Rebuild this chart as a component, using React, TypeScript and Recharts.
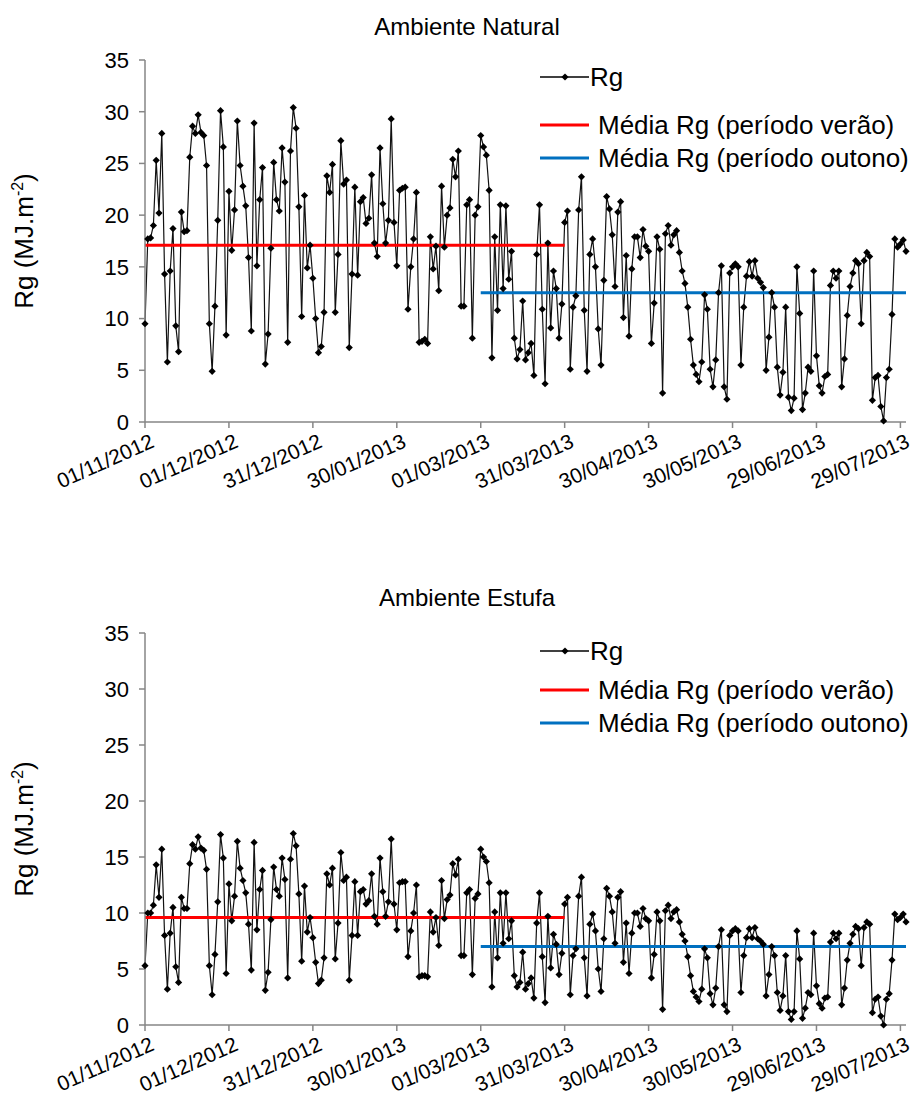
import React from "react";
import { Line, LineChart, XAxis, YAxis } from "recharts";

// eixo x: dias desde 01/11/2012 (último ponto em 31/07/2013)
const TICK_DAYS = [0, 30, 60, 90, 120, 150, 180, 210, 240, 270];
const TICK_LABELS = [
  "01/11/2012",
  "01/12/2012",
  "31/12/2012",
  "30/01/2013",
  "01/03/2013",
  "31/03/2013",
  "30/04/2013",
  "30/05/2013",
  "29/06/2013",
  "29/07/2013",
];
const Y_TICKS = [0, 5, 10, 15, 20, 25, 30, 35];

// Rg diário (MJ.m-2), ambiente natural
const RG_NATURAL = [
  9.5, 17.7, 17.8, 19.0, 25.3, 20.2, 27.9, 14.3, 5.8, 14.6,
  18.7, 9.3, 6.8, 20.3, 18.4, 18.5, 25.6, 28.6, 27.9, 29.7,
  28.0, 27.7, 24.8, 9.5, 4.9, 11.2, 19.5, 30.1, 26.6, 8.4,
  22.3, 16.6, 20.5, 29.1, 24.8, 22.8, 20.9, 15.9, 8.8, 28.9,
  15.1, 21.5, 24.6, 5.6, 8.5, 16.8, 25.1, 21.5, 20.4, 26.5,
  23.2, 7.7, 26.2, 30.4, 28.4, 20.8, 10.2, 21.9, 14.9, 17.1,
  13.9, 10.0, 6.7, 7.3, 10.6, 23.8, 22.2, 24.9, 10.6, 16.2,
  27.2, 23.0, 23.4, 7.2, 14.3, 22.7, 14.2, 21.3, 21.7, 19.2,
  19.7, 23.9, 17.3, 16.0, 26.5, 21.1, 17.3, 19.5, 29.3, 19.3,
  15.1, 22.4, 22.6, 22.7, 10.9, 15.0, 17.7, 22.2, 7.7, 7.8,
  8.0, 7.6, 17.9, 14.8, 17.0, 12.7, 22.8, 16.9, 20.0, 20.7,
  25.4, 23.7, 26.2, 11.2, 11.2, 21.0, 21.5, 8.1, 20.0, 20.8,
  27.7, 26.6, 25.8, 22.4, 6.2, 17.9, 10.8, 21.0, 12.9, 20.9,
  13.8, 16.5, 8.1, 6.1, 7.0, 11.7, 6.0, 6.7, 7.6, 4.5,
  16.2, 21.0, 10.9, 3.7, 17.3, 9.1, 14.6, 12.9, 8.1, 11.4,
  19.3, 20.4, 5.1, 11.1, 12.2, 20.5, 23.7, 10.8, 4.9, 16.2,
  17.7, 15.0, 9.0, 5.5, 13.7, 21.8, 20.6, 18.1, 13.1, 20.3,
  21.3, 10.1, 16.1, 8.3, 14.8, 17.9, 17.9, 15.9, 18.6, 17.0,
  16.5, 7.6, 11.5, 17.9, 16.7, 2.8, 18.2, 19.0, 17.1, 18.1,
  18.5, 16.4, 14.6, 13.4, 11.1, 8.0, 5.5, 4.6, 3.9, 5.8,
  12.3, 10.9, 5.1, 3.4, 6.0, 12.5, 15.1, 3.4, 2.2, 14.4,
  15.0, 15.3, 15.0, 5.5, 11.1, 14.1, 15.5, 14.1, 15.6, 13.9,
  13.5, 13.0, 5.0, 8.2, 12.5, 11.1, 5.3, 2.6, 4.8, 11.1,
  2.4, 1.1, 2.3, 15.0, 10.5, 1.2, 2.8, 5.3, 4.9, 14.6,
  6.4, 3.5, 2.8, 4.4, 4.6, 13.2, 14.6, 13.9, 14.6, 3.4,
  6.1, 10.3, 13.1, 14.4, 15.6, 15.3, 9.5, 15.6, 16.4, 16.0,
  2.1, 4.3, 4.5, 1.5, 0.1, 4.3, 5.1, 10.4, 17.7, 16.9,
  17.2, 17.6, 16.5,
];

// Rg diário (MJ.m-2), ambiente estufa
const RG_ESTUFA = [
  5.3, 10.0, 10.0, 10.7, 14.3, 11.4, 15.7, 8.0, 3.2, 8.2,
  10.5, 5.2, 3.8, 11.4, 10.4, 10.4, 14.4, 16.1, 15.7, 16.8,
  15.8, 15.6, 13.9, 5.3, 2.7, 6.3, 11.0, 17.0, 14.9, 4.6,
  12.6, 9.3, 11.5, 16.4, 14.0, 12.9, 11.8, 9.0, 4.9, 16.3,
  8.5, 12.1, 13.8, 3.1, 4.7, 9.4, 14.1, 12.1, 11.5, 14.9,
  13.0, 4.2, 14.8, 17.1, 16.0, 11.7, 5.7, 12.4, 8.3, 9.6,
  7.8, 5.6, 3.7, 4.0, 6.0, 13.5, 12.5, 14.0, 5.9, 9.1,
  15.4, 12.9, 13.2, 4.0, 8.0, 12.8, 8.0, 11.9, 12.1, 10.8,
  11.1, 13.5, 9.7, 9.0, 14.9, 11.9, 9.7, 11.0, 16.6, 10.8,
  8.5, 12.7, 12.8, 12.8, 6.1, 8.4, 10.0, 12.5, 4.3, 4.4,
  4.4, 4.3, 10.1, 8.3, 9.6, 7.1, 12.9, 9.5, 11.2, 11.6,
  14.4, 13.4, 14.8, 6.2, 6.2, 11.8, 12.1, 4.5, 11.3, 11.7,
  15.7, 15.0, 14.6, 12.7, 3.4, 10.1, 6.0, 11.8, 7.3, 11.8,
  7.7, 9.3, 4.4, 3.4, 3.8, 6.5, 3.2, 3.7, 4.2, 2.4,
  9.1, 11.8, 6.1, 2.0, 9.7, 5.1, 8.1, 7.2, 4.5, 6.4,
  10.8, 11.4, 2.7, 6.2, 6.8, 11.5, 13.2, 6.0, 2.6, 9.0,
  9.9, 8.4, 5.0, 3.0, 7.7, 12.2, 11.5, 10.1, 7.3, 11.4,
  11.9, 5.6, 9.1, 4.6, 8.2, 10.0, 10.0, 8.8, 10.4, 9.5,
  9.3, 4.2, 6.3, 10.1, 9.3, 1.4, 10.2, 10.7, 9.5, 10.1,
  10.3, 9.2, 8.1, 7.5, 6.1, 4.4, 3.0, 2.5, 2.1, 3.2,
  6.8, 6.0, 2.8, 1.8, 3.3, 7.0, 8.5, 1.8, 1.2, 8.0,
  8.4, 8.6, 8.4, 2.9, 6.2, 7.8, 8.6, 7.8, 8.7, 7.7,
  7.5, 7.2, 2.6, 4.5, 7.0, 6.2, 2.9, 1.3, 2.6, 6.2,
  1.2, 0.5, 1.2, 8.4, 5.9, 0.6, 1.5, 2.9, 2.7, 8.2,
  3.5, 1.9, 1.5, 2.4, 2.5, 7.4, 8.2, 7.7, 8.2, 1.8,
  3.3, 5.8, 7.3, 8.1, 8.8, 8.6, 5.3, 8.7, 9.2, 9.0,
  1.1, 2.3, 2.5, 0.8, 0.0, 2.3, 2.8, 5.8, 9.9, 9.4,
  9.6, 9.9, 9.2,
];

// médias por período e dias de início/fim
const VERAO_DAYS = [0, 150];
const OUTONO_DAYS = [120, 272];
const MEDIA_NATURAL = [17.1, 12.5]; // verão, outono
const MEDIA_ESTUFA = [9.6, 7.0];

const FONT = "Liberation Sans, Arial, sans-serif";
const AXIS_COLOR = "#868686";

function buildRows(rg: number[], medias: number[]) {
  return rg.map((v, i) => ({
    day: i,
    rg: v,
    verao: i >= VERAO_DAYS[0] && i <= VERAO_DAYS[1] ? medias[0] : null,
    outono: i >= OUTONO_DAYS[0] && i <= OUTONO_DAYS[1] ? medias[1] : null,
  }));
}

const Diamond = (props: any) => {
  const { cx, cy, index } = props;
  if (cx == null || cy == null) return <g key={index} />;
  const r = 3.6;
  return (
    <path
      key={index}
      d={`M${cx},${cy - r}L${cx + r},${cy}L${cx},${cy + r}L${cx - r},${cy}Z`}
      fill="#000"
    />
  );
};

const DateTick = (props: any) => {
  const { x, y, payload } = props;
  const label = TICK_LABELS[TICK_DAYS.indexOf(payload.value)] ?? "";
  return (
    <g transform={`translate(${x + 4},${y + 2}) rotate(-24)`}>
      <text x={0} y={0} dy={16} textAnchor="end" fill="#000" fontSize={21} fontFamily={FONT}>
        {label}
      </text>
    </g>
  );
};

// linhas da legenda: y absoluto dentro do painel
function RgLegend({ rows }: { rows: number[] }) {
  const items = [
    { label: "Rg", color: "#000", width: 1.3, marker: true },
    { label: "Média Rg (período verão)", color: "#FF0000", width: 3, marker: false },
    { label: "Média Rg (período outono)", color: "#0070C0", width: 3, marker: false },
  ];
  return (
    <svg
      width={918}
      height={rows[2] + 30}
      style={{ position: "absolute", left: 0, top: 0, overflow: "visible", pointerEvents: "none" }}
    >
      {items.map((it, i) => {
        const y = rows[i];
        return (
          <g key={it.label}>
            <line x1={540} x2={589} y1={y} y2={y} stroke={it.color} strokeWidth={it.width} />
            {it.marker && (
              <path d={`M565,${y - 3.6}L568.6,${y}L565,${y + 3.6}L561.4,${y}Z`} fill="#000" />
            )}
            <text x={it.marker ? 590 : 598} y={y} dy={9} fontSize={26} fontFamily={FONT} fill="#000">
              {it.label}
            </text>
          </g>
        );
      })}
    </svg>
  );
}

interface PanelProps {
  title: string;
  rg: number[];
  medias: number[];
  top: number;
  height: number;
  plotTop: number;
  xAxisHeight: number;
  titleY: number;
  legendRows: number[];
}

function Panel({ title, rg, medias, top, height, plotTop, xAxisHeight, titleY, legendRows }: PanelProps) {
  const data = buildRows(rg, medias);
  const plotBottom = height - xAxisHeight;
  return (
    <div style={{ position: "absolute", left: 0, top, width: 918, height }}>
      <div
        style={{
          position: "absolute",
          left: 467,
          top: titleY,
          transform: "translate(-50%, -50%)",
          fontSize: 24,
          fontFamily: FONT,
          whiteSpace: "nowrap",
        }}
      >
        {title}
      </div>
      <div
        style={{
          position: "absolute",
          left: 24,
          top: (plotTop + plotBottom) / 2,
          transform: "translate(-50%, -50%) rotate(-90deg)",
          fontSize: 26,
          fontFamily: FONT,
          whiteSpace: "nowrap",
        }}
      >
        Rg (MJ.m<sup style={{ fontSize: 16 }}>-2</sup>)
      </div>
      <LineChart
        width={918}
        height={height}
        data={data}
        margin={{ top: plotTop, right: 12, bottom: 0, left: 0 }}
      >
        <XAxis
          dataKey="day"
          type="number"
          domain={[0, 272]}
          ticks={TICK_DAYS}
          interval={0}
          height={xAxisHeight}
          tick={<DateTick />}
          tickSize={6}
          axisLine={{ stroke: AXIS_COLOR, strokeWidth: 1.5 }}
          tickLine={{ stroke: AXIS_COLOR, strokeWidth: 1.5 }}
        />
        <YAxis
          type="number"
          domain={[0, 35]}
          ticks={Y_TICKS}
          interval={0}
          width={145}
          tickSize={6}
          tickMargin={10}
          tick={{ fill: "#000", fontSize: 22, fontFamily: FONT }}
          axisLine={{ stroke: AXIS_COLOR, strokeWidth: 1.5 }}
          tickLine={{ stroke: AXIS_COLOR, strokeWidth: 1.5 }}
        />
        <Line
          dataKey="rg"
          type="linear"
          stroke="#111"
          strokeWidth={1.2}
          dot={Diamond}
          activeDot={false}
          isAnimationActive={false}
        />
        <Line
          dataKey="verao"
          type="linear"
          stroke="#FF0000"
          strokeWidth={3}
          dot={false}
          activeDot={false}
          connectNulls={false}
          isAnimationActive={false}
        />
        <Line
          dataKey="outono"
          type="linear"
          stroke="#0070C0"
          strokeWidth={3}
          dot={false}
          activeDot={false}
          connectNulls={false}
          isAnimationActive={false}
        />
      </LineChart>
      <RgLegend rows={legendRows} />
    </div>
  );
}

export default function App() {
  return (
    <div style={{ position: "absolute", left: 0, top: 0, width: 918, height: 1115, background: "#fff" }}>
      <Panel
        title="Ambiente Natural"
        rg={RG_NATURAL}
        medias={MEDIA_NATURAL}
        top={0}
        height={520}
        plotTop={60}
        xAxisHeight={98}
        titleY={27}
        legendRows={[77, 125, 158]}
      />
      <Panel
        title="Ambiente Estufa"
        rg={RG_ESTUFA}
        medias={MEDIA_ESTUFA}
        top={560}
        height={555}
        plotTop={73}
        xAxisHeight={90}
        titleY={38}
        legendRows={[91, 130, 163]}
      />
    </div>
  );
}
